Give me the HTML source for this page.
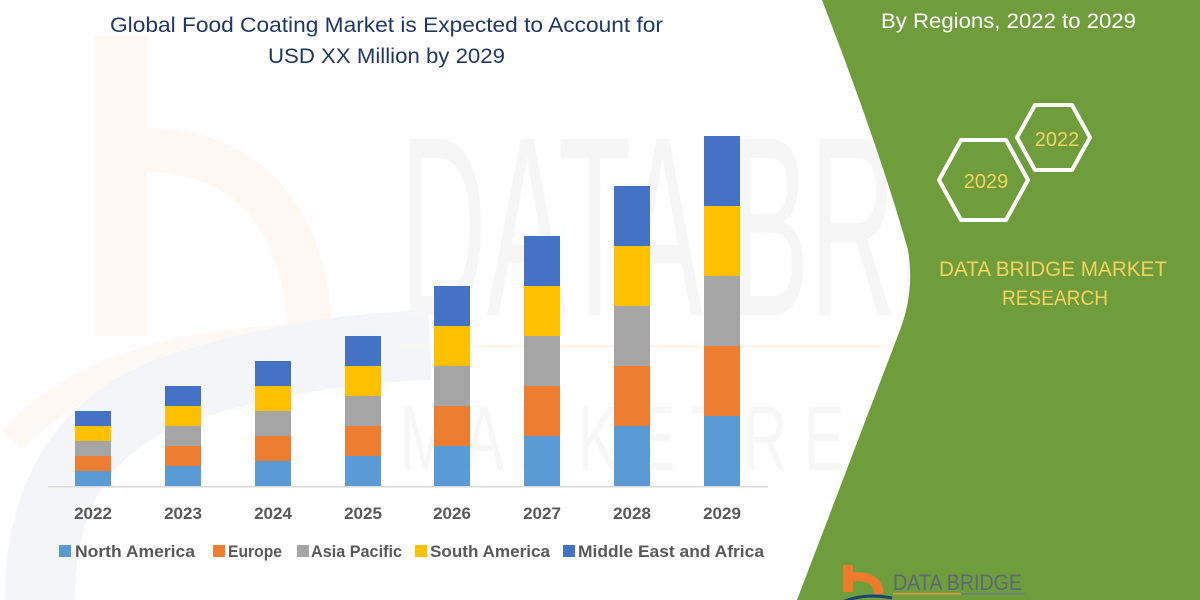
<!DOCTYPE html>
<html>
<head>
<meta charset="utf-8">
<style>
  html,body{margin:0;padding:0;background:#fff;}
  svg{display:block;}
  text{font-family:"Liberation Sans", sans-serif;}
</style>
</head>
<body>
<svg width="1200" height="600" viewBox="0 0 1200 600" xmlns="http://www.w3.org/2000/svg">
  <rect width="1200" height="600" fill="#ffffff"/>

  <!-- faint watermark: orange b + blue swirl -->
  <rect x="95" y="36" width="52" height="300" fill="#fff7f2"/>
  <path d="M147,150 C 255,150 308,230 310,335" fill="none" stroke="#fff7f2" stroke-width="44"/>
  <path d="M12,440 Q 110,335 340,338" fill="none" stroke="#fff8f4" stroke-width="28"/>
  <path d="M40,600 Q 40,430 190,385 Q 300,350 430,345" fill="none" stroke="#f3f5f9" stroke-width="70"/>

  <!-- faint watermark text -->
  <text x="400" y="315" font-size="256" fill="#f6f6f6" textLength="790" lengthAdjust="spacingAndGlyphs">DATA BRIDGE</text>
  <rect x="400" y="345" width="520" height="3" fill="#fef6f0"/>
  <text x="400" y="470" font-size="92" fill="#f7f7f7" textLength="790" lengthAdjust="spacingAndGlyphs">M A R K E T  R E S E A R C H</text>

  <!-- title -->
  <text x="110" y="32" font-size="21" fill="#203864" textLength="553" lengthAdjust="spacingAndGlyphs">Global Food Coating Market is Expected to Account for</text>
  <text x="268" y="63" font-size="21" fill="#203864" textLength="237" lengthAdjust="spacingAndGlyphs">USD XX Million by 2029</text>

  <!-- axis -->
  <rect x="48" y="486" width="720" height="1.5" fill="#d9d9d9"/>

  <!-- bars -->
  <g>
    <rect x="75" y="471" width="36" height="15" fill="#5B9BD5"/>
    <rect x="75" y="456" width="36" height="15" fill="#ED7D31"/>
    <rect x="75" y="441" width="36" height="15" fill="#A5A5A5"/>
    <rect x="75" y="426" width="36" height="15" fill="#FFC000"/>
    <rect x="75" y="411" width="36" height="15" fill="#4472C4"/>

    <rect x="165" y="466" width="36" height="20" fill="#5B9BD5"/>
    <rect x="165" y="446" width="36" height="20" fill="#ED7D31"/>
    <rect x="165" y="426" width="36" height="20" fill="#A5A5A5"/>
    <rect x="165" y="406" width="36" height="20" fill="#FFC000"/>
    <rect x="165" y="386" width="36" height="20" fill="#4472C4"/>

    <rect x="255" y="461" width="36" height="25" fill="#5B9BD5"/>
    <rect x="255" y="436" width="36" height="25" fill="#ED7D31"/>
    <rect x="255" y="411" width="36" height="25" fill="#A5A5A5"/>
    <rect x="255" y="386" width="36" height="25" fill="#FFC000"/>
    <rect x="255" y="361" width="36" height="25" fill="#4472C4"/>

    <rect x="345" y="456" width="36" height="30" fill="#5B9BD5"/>
    <rect x="345" y="426" width="36" height="30" fill="#ED7D31"/>
    <rect x="345" y="396" width="36" height="30" fill="#A5A5A5"/>
    <rect x="345" y="366" width="36" height="30" fill="#FFC000"/>
    <rect x="345" y="336" width="36" height="30" fill="#4472C4"/>

    <rect x="434" y="446" width="36" height="40" fill="#5B9BD5"/>
    <rect x="434" y="406" width="36" height="40" fill="#ED7D31"/>
    <rect x="434" y="366" width="36" height="40" fill="#A5A5A5"/>
    <rect x="434" y="326" width="36" height="40" fill="#FFC000"/>
    <rect x="434" y="286" width="36" height="40" fill="#4472C4"/>

    <rect x="524" y="436" width="36" height="50" fill="#5B9BD5"/>
    <rect x="524" y="386" width="36" height="50" fill="#ED7D31"/>
    <rect x="524" y="336" width="36" height="50" fill="#A5A5A5"/>
    <rect x="524" y="286" width="36" height="50" fill="#FFC000"/>
    <rect x="524" y="236" width="36" height="50" fill="#4472C4"/>

    <rect x="614" y="426" width="36" height="60" fill="#5B9BD5"/>
    <rect x="614" y="366" width="36" height="60" fill="#ED7D31"/>
    <rect x="614" y="306" width="36" height="60" fill="#A5A5A5"/>
    <rect x="614" y="246" width="36" height="60" fill="#FFC000"/>
    <rect x="614" y="186" width="36" height="60" fill="#4472C4"/>

    <rect x="704" y="416" width="36" height="70" fill="#5B9BD5"/>
    <rect x="704" y="346" width="36" height="70" fill="#ED7D31"/>
    <rect x="704" y="276" width="36" height="70" fill="#A5A5A5"/>
    <rect x="704" y="206" width="36" height="70" fill="#FFC000"/>
    <rect x="704" y="136" width="36" height="70" fill="#4472C4"/>
  </g>

  <!-- year labels -->
  <g font-size="17" font-weight="bold" fill="#595959" text-anchor="middle">
    <text x="93" y="519">2022</text>
    <text x="183" y="519">2023</text>
    <text x="273" y="519">2024</text>
    <text x="363" y="519">2025</text>
    <text x="452" y="519">2026</text>
    <text x="542" y="519">2027</text>
    <text x="632" y="519">2028</text>
    <text x="722" y="519">2029</text>
  </g>

  <!-- legend -->
  <g font-size="17" font-weight="bold" fill="#595959">
    <rect x="59" y="545" width="12" height="12" fill="#5B9BD5"/>
    <text x="75" y="557" textLength="120" lengthAdjust="spacingAndGlyphs">North America</text>
    <rect x="213" y="545" width="12" height="12" fill="#ED7D31"/>
    <text x="228" y="557" textLength="54" lengthAdjust="spacingAndGlyphs">Europe</text>
    <rect x="297" y="545" width="12" height="12" fill="#A5A5A5"/>
    <text x="311" y="557" textLength="91" lengthAdjust="spacingAndGlyphs">Asia Pacific</text>
    <rect x="415" y="545" width="12" height="12" fill="#FFC000"/>
    <text x="430" y="557" textLength="120" lengthAdjust="spacingAndGlyphs">South America</text>
    <rect x="563" y="545" width="12" height="12" fill="#4472C4"/>
    <text x="578" y="557" textLength="186" lengthAdjust="spacingAndGlyphs">Middle East and Africa</text>
  </g>

  <!-- green panel -->
  <path d="M822,0 Q880,150 908,250 Q915,290 900,330 L797,600 L1200,600 L1200,0 Z" fill="#6f9d3b"/>

  <!-- right header -->
  <text x="881" y="28" font-size="21" fill="#ffffff" textLength="255" lengthAdjust="spacingAndGlyphs">By Regions, 2022 to 2029</text>

  <!-- hexagons -->
  <g fill="none" stroke="#ffffff" stroke-width="4" stroke-linejoin="round">
    <polygon points="939,180 961,140 1006,140 1028,180 1006,220 961,220"/>
    <polygon points="1017,137.5 1035,105 1072,105 1090,137.5 1072,170 1035,170"/>
  </g>
  <g font-size="20" fill="#f3d35b" text-anchor="middle">
    <text x="986" y="188">2029</text>
    <text x="1057" y="146">2022</text>
  </g>

  <!-- DBMR text -->
  <g font-size="21" fill="#f3d35b">
    <text x="939" y="276" textLength="228" lengthAdjust="spacingAndGlyphs">DATA BRIDGE MARKET</text>
    <text x="1002" y="305" textLength="106" lengthAdjust="spacingAndGlyphs">RESEARCH</text>
  </g>

  <!-- bottom logo -->
  <rect x="843" y="565" width="10" height="27" fill="#f07b2c"/>
  <path d="M853,577 Q878,575 879,594" fill="none" stroke="#f07b2c" stroke-width="9"/>
  <path d="M838,604 Q862,592 892,598" fill="none" stroke="#1f3f7a" stroke-width="3"/>
  <text x="893" y="590" font-size="22" fill="#5c6677" textLength="129" lengthAdjust="spacingAndGlyphs">DATA BRIDGE</text>
  <rect x="893" y="593" width="68" height="1.5" fill="#e39a3c"/>
  <rect x="961" y="593" width="64" height="1.5" fill="#6d7a8c"/>
</svg>
</body>
</html>
